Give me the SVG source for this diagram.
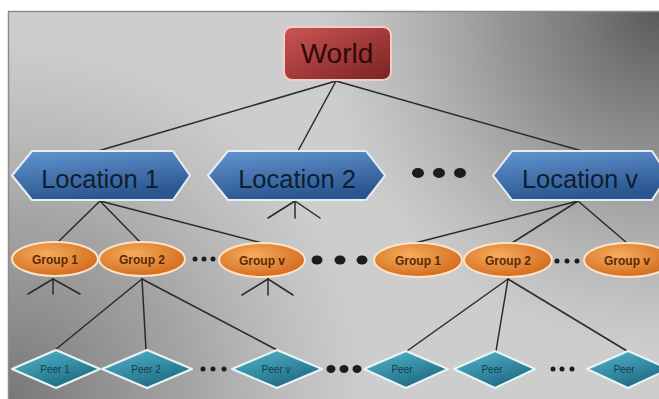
<svg xmlns="http://www.w3.org/2000/svg" width="659" height="399" viewBox="0 0 659 399">
  <style>
    .link { stroke: #2a2a2a; stroke-width: 1.5; fill: none; stroke-linecap: round; }
    .world { fill: url(#gWorld); stroke: #f4ccc6; stroke-width: 2; }
    .loc { fill: url(#gLoc); stroke: #e4eef8; stroke-width: 2; stroke-linejoin: round; }
    .grp { fill: url(#gGrp); stroke: #fbe3c8; stroke-width: 2; }
    .peer { fill: url(#gPeer); stroke: #e8f4f6; stroke-width: 2; stroke-linejoin: round; }
    .t { font-family: "Liberation Sans", Arial, sans-serif; text-anchor: middle; }
    .tWorld { font-size: 28px; fill: #2e0a0a; }
    .tLoc { font-size: 25.5px; fill: #0e1d30; }
    .tGrp { font-size: 12px; font-weight: bold; fill: #5a2a06; }
    .tPeer { font-size: 10px; fill: #173e4e; }
    .dot { fill: #1c1c1c; }
  </style>
  <defs>
    <radialGradient id="shadeTR" cx="659" cy="11" r="340" gradientUnits="userSpaceOnUse">
      <stop offset="0" stop-color="#5a5a5a" stop-opacity="1"/>
      <stop offset="0.45" stop-color="#6e6e6e" stop-opacity="0.6"/>
      <stop offset="1" stop-color="#888888" stop-opacity="0"/>
    </radialGradient>
    <radialGradient id="shadeBL" cx="8" cy="399" r="360" gradientUnits="userSpaceOnUse">
      <stop offset="0" stop-color="#777777" stop-opacity="1"/>
      <stop offset="0.5" stop-color="#888888" stop-opacity="0.6"/>
      <stop offset="1" stop-color="#9a9a9a" stop-opacity="0"/>
    </radialGradient>
    <linearGradient id="gWorld" x1="0" y1="0" x2="1" y2="1">
      <stop offset="0" stop-color="#cc5454"/>
      <stop offset="1" stop-color="#7a2222"/>
    </linearGradient>
    <linearGradient id="gLoc" x1="0" y1="0" x2="0.3" y2="1">
      <stop offset="0" stop-color="#6496cf"/>
      <stop offset="1" stop-color="#2a5690"/>
    </linearGradient>
    <radialGradient id="gGrp" cx="0.4" cy="0.35" r="0.7">
      <stop offset="0" stop-color="#f6ac5c"/>
      <stop offset="1" stop-color="#d2681a"/>
    </radialGradient>
    <linearGradient id="gPeer" x1="0" y1="0" x2="0.6" y2="1">
      <stop offset="0" stop-color="#56b8cf"/>
      <stop offset="1" stop-color="#1c6a82"/>
    </linearGradient>
  </defs>

  <!-- backdrop -->
  <rect x="0" y="0" width="659" height="399" fill="#ffffff"/>
  <rect x="8" y="11" width="660" height="400" fill="#cdcdcd"/>
  <rect x="8" y="11" width="660" height="400" fill="url(#shadeTR)"/>
  <rect x="8" y="11" width="660" height="400" fill="url(#shadeBL)"/>
  <rect x="8.5" y="11.5" width="660" height="400" fill="none" stroke="#8c8c8c" stroke-width="1.5"/>

  <!-- connectors -->
  <g id="connectors">
    <line class="link" x1="336" y1="81" x2="98" y2="151"/>
    <line class="link" x1="336" y1="81" x2="298" y2="151"/>
    <line class="link" x1="336" y1="81" x2="582" y2="151"/>

    <line class="link" x1="100" y1="201" x2="58" y2="242"/>
    <line class="link" x1="100" y1="201" x2="140" y2="242"/>
    <line class="link" x1="100" y1="201" x2="262" y2="243"/>

    <line class="link" x1="295" y1="201" x2="268" y2="218"/>
    <line class="link" x1="295" y1="201" x2="295" y2="218"/>
    <line class="link" x1="295" y1="201" x2="320" y2="218"/>

    <line class="link" x1="578" y1="201" x2="415" y2="243"/>
    <line class="link" x1="578" y1="201" x2="512" y2="243"/>
    <line class="link" x1="578" y1="201" x2="627" y2="243"/>

    <line class="link" x1="53" y1="279" x2="28" y2="294"/>
    <line class="link" x1="53" y1="279" x2="53" y2="294"/>
    <line class="link" x1="53" y1="279" x2="80" y2="294"/>

    <line class="link" x1="268" y1="279" x2="242" y2="295"/>
    <line class="link" x1="268" y1="279" x2="268" y2="295"/>
    <line class="link" x1="268" y1="279" x2="293" y2="295"/>

    <line class="link" x1="142" y1="279" x2="55" y2="350"/>
    <line class="link" x1="142" y1="279" x2="146" y2="350"/>
    <line class="link" x1="142" y1="279" x2="277" y2="350"/>

    <line class="link" x1="508" y1="279" x2="407" y2="351"/>
    <line class="link" x1="508" y1="279" x2="496" y2="351"/>
    <line class="link" x1="508" y1="279" x2="627" y2="351"/>
  </g>

  <!-- root -->
  <g id="world">
    <rect class="world" x="284" y="27" width="107" height="53" rx="8"/>
    <text class="t tWorld" x="337" y="63">World</text>
  </g>

  <!-- locations -->
  <g id="location-1">
    <polygon class="loc" points="12,175.5 32,151 173,151 190,175.5 173,200 32,200"/>
    <text class="t tLoc" x="100" y="188">Location 1</text>
  </g>
  <g id="location-2">
    <polygon class="loc" points="208,175.5 228,151 366,151 385,175.5 366,200 228,200"/>
    <text class="t tLoc" x="297" y="188">Location 2</text>
  </g>
  <g id="location-v">
    <polygon class="loc" points="493,175.5 512,151 652,151 668,175.5 652,200 512,200"/>
    <text class="t tLoc" x="580" y="188">Location v</text>
  </g>

  <!-- groups -->
  <g id="group-1-a">
    <ellipse class="grp" cx="55" cy="259" rx="43" ry="17"/>
    <text class="t tGrp" x="55" y="264">Group 1</text>
  </g>
  <g id="group-2-a">
    <ellipse class="grp" cx="142" cy="259" rx="43" ry="17"/>
    <text class="t tGrp" x="142" y="264">Group 2</text>
  </g>
  <g id="group-v-a">
    <ellipse class="grp" cx="262" cy="260" rx="43" ry="17"/>
    <text class="t tGrp" x="262" y="265">Group v</text>
  </g>
  <g id="group-1-b">
    <ellipse class="grp" cx="418" cy="260" rx="44" ry="17"/>
    <text class="t tGrp" x="418" y="265">Group 1</text>
  </g>
  <g id="group-2-b">
    <ellipse class="grp" cx="508" cy="260" rx="44" ry="17"/>
    <text class="t tGrp" x="508" y="265">Group 2</text>
  </g>
  <g id="group-v-b">
    <ellipse class="grp" cx="628" cy="260" rx="44" ry="17"/>
    <text class="t tGrp" x="627" y="265">Group v</text>
  </g>

  <!-- peers -->
  <g id="peer-1">
    <polygon class="peer" points="12,369 56,350 100,369 56,388"/>
    <text class="t tPeer" x="55" y="373">Peer 1</text>
  </g>
  <g id="peer-2">
    <polygon class="peer" points="102,369 147,350 192,369 147,388"/>
    <text class="t tPeer" x="146" y="373">Peer 2</text>
  </g>
  <g id="peer-v">
    <polygon class="peer" points="232,369 277,350 322,369 277,388"/>
    <text class="t tPeer" x="276" y="373">Peer v</text>
  </g>
  <g id="peer-a">
    <polygon class="peer" points="364,369 406,351 448,369 406,388"/>
    <text class="t tPeer" x="402" y="373">Peer</text>
  </g>
  <g id="peer-b">
    <polygon class="peer" points="454,369 495,351 535,369 495,388"/>
    <text class="t tPeer" x="492" y="373">Peer</text>
  </g>
  <g id="peer-c">
    <polygon class="peer" points="587,369 628,351 669,369 628,388"/>
    <text class="t tPeer" x="624" y="373">Peer</text>
  </g>

  <!-- ellipsis marks -->
  <g id="ellipses">
    <ellipse class="dot" cx="418" cy="173" rx="6" ry="5"/>
    <ellipse class="dot" cx="439" cy="173" rx="6" ry="5"/>
    <ellipse class="dot" cx="460" cy="173" rx="6" ry="5"/>

    <circle class="dot" cx="195" cy="259" r="2.5"/>
    <circle class="dot" cx="204" cy="259" r="2.5"/>
    <circle class="dot" cx="213" cy="259" r="2.5"/>
    <ellipse class="dot" cx="317" cy="260" rx="5.5" ry="4.5"/>
    <ellipse class="dot" cx="340" cy="260" rx="5.5" ry="4.5"/>
    <ellipse class="dot" cx="362" cy="260" rx="5.5" ry="4.5"/>
    <circle class="dot" cx="557" cy="261" r="2.5"/>
    <circle class="dot" cx="567" cy="261" r="2.5"/>
    <circle class="dot" cx="577" cy="261" r="2.5"/>

    <circle class="dot" cx="203" cy="369" r="2.5"/>
    <circle class="dot" cx="213" cy="369" r="2.5"/>
    <circle class="dot" cx="224" cy="369" r="2.5"/>
    <ellipse class="dot" cx="331" cy="369" rx="4.5" ry="4"/>
    <ellipse class="dot" cx="344" cy="369" rx="4.5" ry="4"/>
    <ellipse class="dot" cx="357" cy="369" rx="4.5" ry="4"/>
    <circle class="dot" cx="553" cy="369" r="2.5"/>
    <circle class="dot" cx="562" cy="369" r="2.5"/>
    <circle class="dot" cx="572" cy="369" r="2.5"/>
  </g>
</svg>
